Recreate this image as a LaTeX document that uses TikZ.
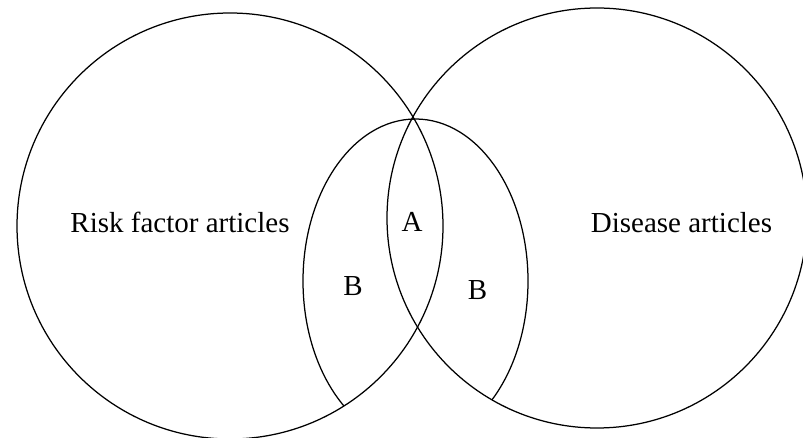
\documentclass[tikz,border=0pt]{standalone}
\usepackage{fontspec}
\setmainfont{Liberation Serif}
\begin{document}
\begin{tikzpicture}[x=1pt, y=-1pt, line width=1.25pt,
    setlabel/.style={anchor=base, inner sep=0pt, font=\fontsize{29}{34}\selectfont}]
  \useasboundingbox (0, 0) rectangle (803, 438);
  \draw (230, 226) circle[radius=213pt];
  \draw (597, 218) circle[radius=210pt];
  \begin{scope}
    \clip (230, 226) circle[radius=213pt];
    \draw (415.5, 281) ellipse[x radius=112.5pt, y radius=162pt];
  \end{scope}
  \begin{scope}
    \clip (597, 218) circle[radius=210pt];
    \draw (415.5, 281) ellipse[x radius=112.5pt, y radius=162pt];
  \end{scope}
  \node[setlabel] (risk) at (180, 233) {Risk factor articles};
  \node[setlabel] (disease) at (681.5, 233) {Disease articles};
  \node[setlabel] (both) at (412, 232) {A};
  \node[setlabel] (leftb) at (353, 295) {B};
  \node[setlabel] (rightb) at (477.5, 300) {B};
\end{tikzpicture}
\end{document}
